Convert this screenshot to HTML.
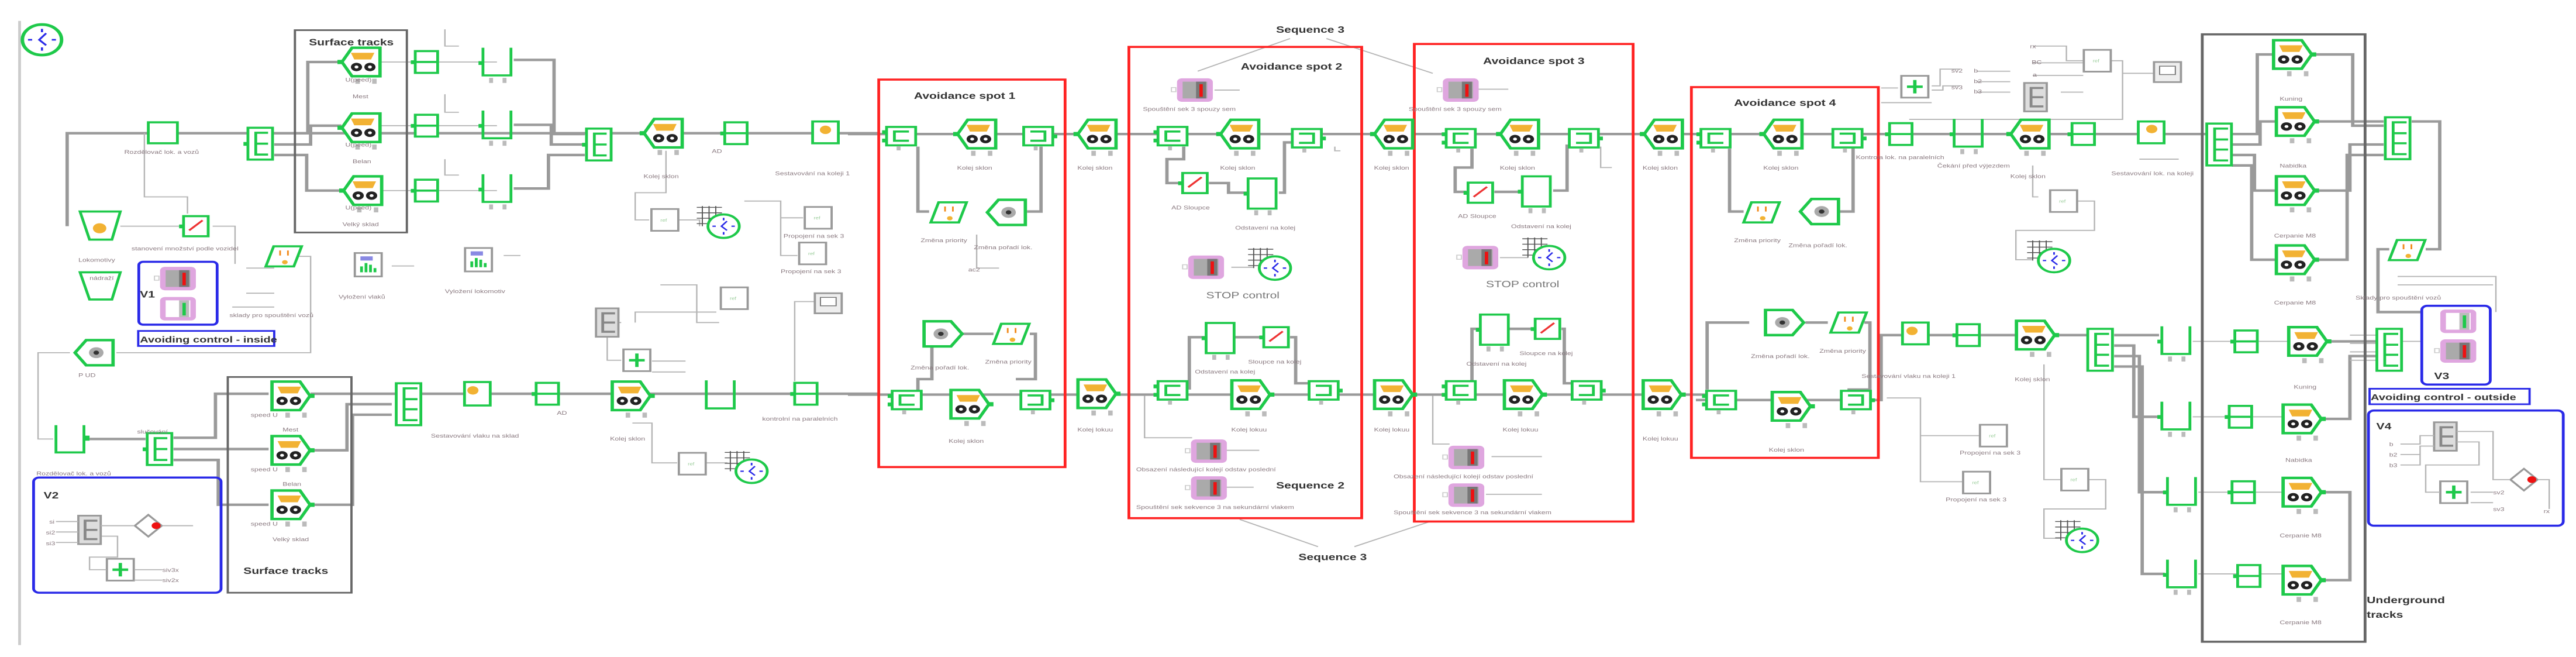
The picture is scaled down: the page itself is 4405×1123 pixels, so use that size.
<!DOCTYPE html>
<html><head><meta charset="utf-8"><style>
html,body{margin:0;padding:0;background:#fff;}
svg{display:block;font-family:"Liberation Sans",sans-serif;}
.t{font-size:13px;fill:#8a7a80;}
.h{font-size:22px;font-weight:bold;fill:#333;}
.L{fill:none;stroke:#9a9a9a;stroke-width:6;}
.l{fill:none;stroke:#b5b5b5;stroke-width:2.5;}
</style></head><body>
<svg width="4405" height="1123" viewBox="0 0 4405 1123" xmlns="http://www.w3.org/2000/svg" xmlns:xlink="http://www.w3.org/1999/xlink">
<defs>
<g id="veh"><path d="M-34,0 L-16,-34 H34 V34 H-16 Z" fill="#fff" stroke="#1ec94a" stroke-width="6"/><path d="M-18,-22 H24 L18,-6 H-12 Z" fill="#f2b233"/><circle cx="-8" cy="12" r="10" fill="#222"/><circle cx="-8" cy="12" r="3.5" fill="#fff"/><circle cx="16" cy="12" r="10" fill="#222"/><circle cx="16" cy="12" r="3.5" fill="#fff"/><rect x="-42" y="-5" width="8" height="10" fill="#1ec94a"/><rect x="-10" y="40" width="8" height="12" fill="#bbb"/><rect x="20" y="40" width="8" height="12" fill="#bbb"/></g>
<g id="vehR"><path d="M34,0 L16,-34 H-34 V34 H16 Z" fill="#fff" stroke="#1ec94a" stroke-width="6"/><path d="M18,-22 H-24 L-18,-6 H12 Z" fill="#f2b233"/><circle cx="8" cy="12" r="10" fill="#222"/><circle cx="8" cy="12" r="3.5" fill="#fff"/><circle cx="-16" cy="12" r="10" fill="#222"/><circle cx="-16" cy="12" r="3.5" fill="#fff"/><rect x="34" y="-5" width="8" height="10" fill="#1ec94a"/><rect x="-10" y="40" width="8" height="12" fill="#bbb"/><rect x="20" y="40" width="8" height="12" fill="#bbb"/></g>
<g id="sw"><rect x="-26" y="-22" width="52" height="44" fill="#fff" stroke="#1ec94a" stroke-width="5"/><path d="M14,-11 H-12 V11 H14" fill="none" stroke="#1ec94a" stroke-width="5"/><rect x="-34" y="-14" width="8" height="9" fill="#1ec94a"/><rect x="-34" y="6" width="8" height="9" fill="#1ec94a"/><rect x="-8" y="24" width="7" height="10" fill="#bbb"/></g>
<g id="swR"><rect x="-26" y="-22" width="52" height="44" fill="#fff" stroke="#1ec94a" stroke-width="5"/><path d="M-14,-11 H12 V11 H-14" fill="none" stroke="#1ec94a" stroke-width="5"/><rect x="26" y="-4" width="8" height="9" fill="#1ec94a"/><rect x="-8" y="24" width="7" height="10" fill="#bbb"/></g>
<g id="dbl"><rect x="-20" y="-26" width="40" height="52" fill="#fff" stroke="#1ec94a" stroke-width="5"/><line x1="-20" y1="0" x2="20" y2="0" stroke="#1ec94a" stroke-width="5"/><rect x="-28" y="-4" width="8" height="9" fill="#1ec94a"/></g>
<g id="que"><path d="M-25,-36 V30 H25 V-36" fill="none" stroke="#1ec94a" stroke-width="5"/><rect x="-33" y="-4" width="8" height="9" fill="#1ec94a"/><rect x="-14" y="36" width="7" height="12" fill="#bbb"/><rect x="10" y="36" width="7" height="12" fill="#bbb"/></g>
<g id="eb"><rect x="-22" y="-38" width="44" height="76" fill="#fff" stroke="#1ec94a" stroke-width="5"/><path d="M14,-26 H-8 V26 H14 M-8,0 H14" fill="none" stroke="#1ec94a" stroke-width="5"/><rect x="-30" y="-4" width="8" height="9" fill="#1ec94a"/></g>
<g id="ebig"><rect x="-22" y="-50" width="44" height="100" fill="#fff" stroke="#1ec94a" stroke-width="5"/><path d="M16,-38 H-8 V38 H16 M-8,-12 H16 M-8,12 H16" fill="none" stroke="#1ec94a" stroke-width="5"/></g>
<g id="tall"><rect x="-25" y="-36" width="50" height="72" fill="#fff" stroke="#1ec94a" stroke-width="5"/><rect x="-33" y="-4" width="8" height="9" fill="#1ec94a"/><rect x="-14" y="40" width="7" height="12" fill="#bbb"/><rect x="10" y="40" width="7" height="12" fill="#bbb"/></g>
<g id="rl"><rect x="-22" y="-24" width="44" height="48" fill="#fff" stroke="#1ec94a" stroke-width="5"/><line x1="-12" y1="10" x2="12" y2="-14" stroke="#e33" stroke-width="4"/><rect x="-30" y="-4" width="8" height="9" fill="#1ec94a"/></g>
<g id="par"><path d="M-30,24 L-16,-24 H34 L20,24 Z" fill="#fff" stroke="#1ec94a" stroke-width="5"/><rect x="-6" y="-14" width="3" height="12" fill="#f28a1a"/><rect x="8" y="-14" width="3" height="12" fill="#f28a1a"/><circle cx="4" cy="14" r="5" fill="#f2b233"/></g>
<g id="hexc"><path d="M-34,-30 H14 L34,0 L14,30 H-34 Z" fill="#fff" stroke="#1ec94a" stroke-width="6"/><circle cx="-4" cy="0" r="13" fill="#aaa"/><circle cx="-4" cy="0" r="5" fill="#333"/></g>
<g id="pink"><rect x="-32" y="-28" width="64" height="56" rx="9" fill="#dfa6df"/><rect x="-22" y="-20" width="44" height="40" fill="#aaa"/><rect x="2" y="-20" width="18" height="40" fill="#777"/><rect x="8" y="-14" width="6" height="30" fill="#e11"/><rect x="-42" y="-6" width="8" height="10" fill="none" stroke="#ccc" stroke-width="2"/></g>
<g id="clk"><circle r="28" fill="#fff" stroke="#1ec94a" stroke-width="5"/><path d="M0,-20 V-14 M0,20 V14 M-20,0 H-14 M20,0 H14 M6,-12 L-4,0 L6,10" stroke="#2a2ae8" stroke-width="3" fill="none"/></g>
<g id="cg"><path d="M-40,-35 H5 M-40,-22 H5 M-40,-9 H5 M-40,4 H5 M-30,-38 V10 M-18,-38 V10 M-6,-38 V10" stroke="#555" stroke-width="2"/><use xlink:href="#clk" x="8" y="10"/></g>
<g id="chart"><rect x="-24" y="-28" width="48" height="56" fill="#fff" stroke="#999" stroke-width="4"/><path d="M-12,18 V4 M-4,18 V-4 M4,18 V0 M12,18 V8" stroke="#1ec94a" stroke-width="5"/><rect x="-14" y="-20" width="22" height="10" fill="#3a3ad0" opacity=".6"/></g>
<g id="gbox"><rect x="-24" y="-26" width="48" height="52" fill="#fff" stroke="#999" stroke-width="4"/><text x="-8" y="4" style="font-size:10px;fill:#9c9">ref</text></g>
<g id="plus"><rect x="-24" y="-26" width="48" height="52" fill="#fff" stroke="#999" stroke-width="4"/><path d="M-14,0 H14 M0,-16 V16" stroke="#1ec94a" stroke-width="6"/></g>
<g id="mon"><rect x="-24" y="-24" width="48" height="48" fill="#eee" stroke="#999" stroke-width="4"/><rect x="-14" y="-14" width="28" height="20" fill="#fff" stroke="#777" stroke-width="2"/></g>
<g id="ge"><rect x="-20" y="-34" width="40" height="68" fill="#ddd" stroke="#999" stroke-width="4"/><path d="M14,-22 H-8 V22 H14 M-8,0 H14" fill="none" stroke="#888" stroke-width="5"/></g>
<g id="dia"><path d="M0,-26 L24,0 L0,26 L-24,0 Z" fill="#fff" stroke="#999" stroke-width="4"/><circle cx="14" cy="0" r="8" fill="#e11"/></g>
</defs>

<!-- ============ PANEL 1 ============ -->
<g transform="scale(0.957,0.716)">
<line x1="35" y1="50" x2="35" y2="1540" stroke="#ccc" stroke-width="5"/>
<use xlink:href="#clk" x="75" y="95" transform="translate(75,95) scale(1.25,1.3) translate(-75,-95)"/>
<path class="L" d="M120,540 V318 H1568"/>
<path class="L" d="M490,318 H550 V148 H610 M490,345 H555 V300 H610 M490,370 H548 V455 H610"/>
<path class="l" d="M680,148 H888 M680,300 H888 M680,455 H888"/>
<path class="L" d="M918,143 H990 V320 H1045 M918,298 H985 V345 H1045 M918,450 H980 V370 H1045"/>
<path class="l" d="M258,318 V470 H335 V510 M215,540 H320 M380,540 H420 V630 M530,612 H555 V842 H208 M125,842 H68 V1048 H95"/>
<path class="L" d="M160,1048 H260 M310,1045 H385 V940 H480 M310,1072 H480 M310,1098 H390 V1205 H480"/>
<path class="L" d="M555,940 H1568 M555,1075 H620 V965 H700 M555,1205 H630 V990 H700"/>
<path class="l" d="M1190,360 V460 H1135 V525 H1160 M1210,525 H1250 V540 M1330,480 H1395 V610 H1425 M1395,520 H1435 M1505,700 H1460 M1420,910 V720 H1460 M1130,1010 H1165 V1105 H1210 M1260,1105 H1300 M1110,770 H1085 V860 H1110 M1135,770 H1135 V745 H1280 M1180,680 H1245 V770 H1285"/>
<path class="l" d="M795,70 V110 H820 M795,225 V268 H820 M795,380 V418 H820 M700,635 H740 M900,610 H930 M440,640 H490 M440,700 H490 M415,733 H490 M1165,862 H1225 M1165,888 H1225"/>
<rect x="527" y="72" width="200" height="483" fill="none" stroke="#666" stroke-width="4"/>
<text x="552" y="108" class="h">Surface tracks</text>
<use xlink:href="#veh" x="645" y="148"/><use xlink:href="#veh" x="645" y="305"/><use xlink:href="#veh" x="648" y="455"/>
<text x="617" y="195" class="t">U(peed)</text><text x="630" y="235" class="t">Mest</text>
<text x="617" y="350" class="t">U(peed)</text><text x="630" y="390" class="t">Belan</text>
<text x="617" y="500" class="t">U(peed)</text><text x="612" y="540" class="t">Velký sklad</text>
<use xlink:href="#dbl" x="762" y="148"/><use xlink:href="#dbl" x="762" y="300"/><use xlink:href="#dbl" x="762" y="455"/>
<use xlink:href="#que" x="888" y="150"/><use xlink:href="#que" x="888" y="300"/><use xlink:href="#que" x="888" y="452"/>
<use xlink:href="#eb" x="465" y="343"/>
<use xlink:href="#eb" x="1070" y="345"/>
<rect x="265" y="292" width="52" height="50" fill="#fff" stroke="#1ec94a" stroke-width="5"/>
<text x="222" y="367" class="t">Rozdělovač lok. a vozů</text>
<use xlink:href="#veh" x="1185" y="318"/><text x="1150" y="425" class="t">Kolej sklon</text>
<use xlink:href="#dbl" x="1315" y="318"/><text x="1272" y="365" class="t">AD</text>
<rect x="1452" y="290" width="46" height="52" fill="#fff" stroke="#1ec94a" stroke-width="5"/><circle cx="1475" cy="310" r="10" fill="#f2b233"/>
<text x="1385" y="418" class="t">Sestavování na koleji 1</text>
<path d="M143,505 H215 L200,572 H160 Z" fill="#fff" stroke="#1ec94a" stroke-width="5"/><circle cx="178" cy="545" r="12" fill="#f2b233"/>
<text x="140" y="625" class="t">Lokomotivy</text>
<path d="M143,650 H215 L200,715 H160 Z" fill="#fff" stroke="#1ec94a" stroke-width="5"/><text x="160" y="668" class="t">nádraží</text>
<use xlink:href="#rl" x="350" y="540"/>
<text x="235" y="598" class="t">stanovení množství podle vozidel</text>
<use xlink:href="#par" x="505" y="612"/>
<rect x="248" y="625" width="140" height="150" rx="8" fill="none" stroke="#2a2ae8" stroke-width="5"/>
<text x="250" y="710" class="h">V1</text>
<use xlink:href="#pink" x="318" y="665"/>
<g transform="translate(318,737)"><rect x="-32" y="-28" width="64" height="56" rx="9" fill="#dfa6df"/><rect x="-22" y="-20" width="44" height="40" fill="#fff"/><rect x="2" y="-20" width="18" height="40" fill="#bbb"/><rect x="8" y="-14" width="6" height="30" fill="#1ec94a"/></g>
<text x="410" y="757" class="t">sklady pro spouštění vozů</text>
<rect x="247" y="790" width="243" height="36" fill="#fff" stroke="#2a2ae8" stroke-width="4"/>
<text x="250" y="818" style="font-size:21px;font-weight:bold;fill:#333">Avoiding control - inside</text>
<use xlink:href="#hexc" x="168" y="842" transform="translate(336,0) scale(-1,1)"/>
<text x="140" y="900" class="t">P      UD</text>
<path d="M100,1015 V1080 H150 V1015" fill="none" stroke="#1ec94a" stroke-width="5"/><rect x="150" y="1040" width="10" height="12" fill="#1ec94a"/>
<text x="65" y="1135" class="t">Rozdělovač lok. a vozů</text>
<use xlink:href="#eb" x="285" y="1072"/><text x="245" y="1035" class="t">slučování</text>
<rect x="407" y="900" width="221" height="515" fill="none" stroke="#666" stroke-width="4"/>
<text x="435" y="1370" class="h">Surface tracks</text>
<use xlink:href="#vehR" x="520" y="945"/><use xlink:href="#vehR" x="520" y="1075"/><use xlink:href="#vehR" x="520" y="1205"/>
<text x="448" y="995" class="t">speed   U</text><text x="505" y="1030" class="t">Mest</text>
<text x="448" y="1125" class="t">speed   U</text><text x="505" y="1160" class="t">Belan</text>
<text x="448" y="1255" class="t">speed   U</text><text x="487" y="1292" class="t">Velký sklad</text>
<use xlink:href="#ebig" x="730" y="965"/>
<rect x="830" y="912" width="46" height="56" fill="#fff" stroke="#1ec94a" stroke-width="5"/><circle cx="845" cy="932" r="10" fill="#f2b233"/>
<text x="770" y="1045" class="t">Sestavování vlaku na sklad</text>
<use xlink:href="#dbl" x="978" y="940"/><text x="995" y="990" class="t">AD</text>
<use xlink:href="#vehR" x="1128" y="945"/><text x="1090" y="1052" class="t">Kolej sklon</text>
<path d="M1262,908 V975 H1312 V908" fill="none" stroke="#1ec94a" stroke-width="5"/>
<use xlink:href="#dbl" x="1440" y="940"/><text x="1362" y="1004" class="t">kontrolní na paralelních</text>
<use xlink:href="#chart" x="658" y="632"/><text x="605" y="713" class="t">Vyložení vlaků</text>
<use xlink:href="#chart" x="855" y="620"/><text x="795" y="700" class="t">Vyložení lokomotiv</text>
<use xlink:href="#gbox" x="1188" y="525"/><use xlink:href="#cg" x="1285" y="530"/>
<use xlink:href="#gbox" x="1462" y="520"/><text x="1400" y="568" class="t">Propojení na sek 3</text>
<use xlink:href="#gbox" x="1452" y="605"/><text x="1395" y="652" class="t">Propojení na sek 3</text>
<use xlink:href="#gbox" x="1312" y="712"/><use xlink:href="#mon" x="1480" y="724"/>
<use xlink:href="#ge" x="1085" y="770"/><use xlink:href="#plus" x="1138" y="860"/>
<use xlink:href="#gbox" x="1237" y="1107"/><use xlink:href="#cg" x="1335" y="1115"/>
<rect x="60" y="1140" width="335" height="275" rx="10" fill="none" stroke="#2a2ae8" stroke-width="5"/>
<text x="78" y="1190" class="h">V2</text>
<use xlink:href="#ge" x="160" y="1265"/><use xlink:href="#dia" x="265" y="1255"/><use xlink:href="#plus" x="215" y="1360"/>
<path class="l" d="M100,1245 H140 M100,1270 H140 M100,1295 H140 M180,1255 H240 M290,1255 H345 M182,1280 H210 V1330 H160 V1360 H190 M240,1360 H290 M240,1385 H290"/>
<text x="88" y="1250" class="t">si</text><text x="82" y="1276" class="t">si2</text><text x="82" y="1302" class="t">si3</text><text x="290" y="1365" class="t">siv3x</text><text x="290" y="1390" class="t">siv2x</text>
</g>

<!-- ============ PANEL 2 ============ -->
<g transform="translate(1450,0) scale(0.957,0.716)">
<path class="L" d="M0,320 H1568 M0,942 H1568"/>
<text x="765" y="78" class="h">Sequence 3</text>
<path class="l" d="M790,92 L625,170 M855,92 L1045,175 M700,1240 L840,1305 M905,1305 L1040,1245"/>
<text x="805" y="1337" class="h">Sequence 3</text>
<rect x="55" y="190" width="333" height="925" fill="none" stroke="#f22" stroke-width="5"/>
<text x="118" y="236" class="h">Avoidance spot 1</text>
<rect x="502" y="112" width="416" height="1125" fill="none" stroke="#f22" stroke-width="5"/>
<text x="702" y="166" class="h">Avoidance spot 2</text>
<rect x="1012" y="105" width="391" height="1140" fill="none" stroke="#f22" stroke-width="5"/>
<text x="1135" y="153" class="h">Avoidance spot 3</text>
<path class="L" d="M125,350 V505 H145 M320,505 H345 V350 M600,350 V380 H570 V437 H600 M645,437 H680 V460 H715 M770,460 H780 V340 H800 M1115,355 V400 H1085 V458 H1105 M1155,458 H1205 M1260,455 H1285 V345"/>
<path class="L" d="M125,935 V905 H150 V797 H135 M205,797 H260 M325,797 H335 V905 H300 M610,930 V805 H640 M690,805 H740 M790,805 H800 V915 H830 M1115,930 V785 H1130 M1180,785 H1225 M1275,785 H1280 V915 H1300"/>
<path class="l" d="M530,945 V1045 H615 M1045,945 V1060 H1075 M675,1075 H735 M675,1163 H725 M655,215 H700 M1125,213 H1180 M870,350 V360 H880 M1345,350 V400 H1365 M1150,1090 H1240 M1140,1180 H1240 M230,560 V640 H270 M685,638 H725 M1165,615 H1215"/>
<use xlink:href="#sw" x="95" y="325"/><use xlink:href="#veh" x="230" y="320"/><use xlink:href="#swR" x="340" y="325"/>
<use xlink:href="#veh" x="445" y="320"/><use xlink:href="#sw" x="580" y="325"/><use xlink:href="#veh" x="700" y="320"/>
<use xlink:href="#swR" x="820" y="330"/><use xlink:href="#veh" x="975" y="320"/><use xlink:href="#sw" x="1095" y="330"/>
<use xlink:href="#veh" x="1200" y="320"/><use xlink:href="#swR" x="1315" y="330"/><use xlink:href="#veh" x="1457" y="320"/>
<text x="195" y="405" class="t">Kolej sklon</text><text x="410" y="405" class="t">Kolej sklon</text><text x="665" y="405" class="t">Kolej sklon</text><text x="940" y="405" class="t">Kolej sklon</text><text x="1165" y="405" class="t">Kolej sklon</text><text x="1420" y="405" class="t">Kolej sklon</text>
<use xlink:href="#par" x="178" y="507"/><use xlink:href="#hexc" x="283" y="507" transform="translate(566,0) scale(-1,1)"/>
<text x="130" y="578" class="t">Změna priority</text><text x="225" y="595" class="t">Změna pořadí lok.</text><text x="215" y="648" class="t">ac2</text>
<use xlink:href="#pink" x="620" y="215"/><text x="527" y="265" class="t">Spouštění sek 3 spouzy sem</text>
<use xlink:href="#rl" x="620" y="437"/><text x="578" y="500" class="t">AD  Sloupce</text>
<use xlink:href="#tall" x="740" y="462"/><text x="692" y="548" class="t">Odstavení na kolej</text>
<use xlink:href="#pink" x="640" y="638"/><use xlink:href="#cg" x="755" y="630"/>
<text x="640" y="712" style="font-size:22px;fill:#777">STOP control</text>
<use xlink:href="#hexc" x="170" y="797"/><use xlink:href="#par" x="290" y="797"/>
<text x="112" y="882" class="t">Změna pořadí lok.</text><text x="245" y="868" class="t">Změna priority</text>
<use xlink:href="#sw" x="105" y="955"/><use xlink:href="#vehR" x="218" y="965"/><use xlink:href="#swR" x="335" y="955"/>
<text x="180" y="1057" class="t">Kolej sklon</text>
<use xlink:href="#vehR" x="445" y="940"/><text x="410" y="1030" class="t">Kolej lokuu</text>
<use xlink:href="#tall" x="665" y="807"/><use xlink:href="#rl" x="765" y="805"/>
<text x="620" y="892" class="t">Odstavení na kolej</text><text x="715" y="868" class="t">Sloupce na kolej</text>
<use xlink:href="#sw" x="580" y="932"/><use xlink:href="#vehR" x="720" y="942"/><use xlink:href="#swR" x="850" y="932"/>
<text x="685" y="1030" class="t">Kolej lokuu</text>
<use xlink:href="#vehR" x="975" y="942"/><text x="940" y="1030" class="t">Kolej lokuu</text>
<use xlink:href="#pink" x="645" y="1077"/><text x="515" y="1125" class="t">Obsazení následující kolejí odstav poslední</text>
<use xlink:href="#pink" x="645" y="1165"/><text x="515" y="1215" class="t">Spouštění sek sekvence 3 na sekundární vlakem</text>
<text x="765" y="1166" class="h">Sequence 2</text>
<use xlink:href="#pink" x="1095" y="215"/><text x="1002" y="265" class="t">Spouštění sek 3 spouzy sem</text>
<use xlink:href="#rl" x="1130" y="460"/><text x="1090" y="520" class="t">AD  Sloupce</text>
<use xlink:href="#tall" x="1230" y="457"/><text x="1185" y="545" class="t">Odstavení na kolej</text>
<use xlink:href="#pink" x="1130" y="615"/><use xlink:href="#cg" x="1245" y="605"/>
<text x="1140" y="686" style="font-size:22px;fill:#777">STOP control</text>
<use xlink:href="#tall" x="1155" y="787"/><use xlink:href="#rl" x="1250" y="785"/>
<text x="1105" y="873" class="t">Odstavení na kolej</text><text x="1200" y="848" class="t">Sloupce na kolej</text>
<use xlink:href="#sw" x="1095" y="932"/><use xlink:href="#vehR" x="1207" y="942"/><use xlink:href="#swR" x="1320" y="932"/>
<text x="1170" y="1030" class="t">Kolej lokuu</text>
<use xlink:href="#pink" x="1105" y="1092"/><text x="975" y="1142" class="t">Obsazení následující kolejí odstav poslední</text>
<use xlink:href="#pink" x="1105" y="1182"/><text x="975" y="1228" class="t">Spouštění sek sekvence 3 na sekundární vlakem</text>
<use xlink:href="#vehR" x="1455" y="942"/><text x="1420" y="1052" class="t">Kolej lokuu</text>
</g>

<!-- ============ PANEL 3 ============ -->
<g transform="translate(2900,0) scale(0.96,0.716)">
<path class="L" d="M0,320 H910 M0,955 H330 V800 H700"/>
<rect x="-8" y="208" width="333" height="885" fill="none" stroke="#f22" stroke-width="5"/>
<text x="68" y="253" class="h">Avoidance spot 4</text>
<path class="L" d="M60,355 V505 H85 M250,505 H280 V350 M20,930 V770 H95 M195,770 H235 M300,770 H310 V930 H270"/>
<path class="L" d="M955,320 H1000 V130 H1028 M955,345 H1005 V290 H1033 M955,370 H995 V455 H1033 M955,395 H990 V620 H1033"/>
<path class="L" d="M1100,130 H1170 V300 H1225 M1105,290 H1225 M1105,455 H1165 V345 H1225 M1105,620 H1160 V370 H1225 M1275,290 H1325 V595 H1300 M1235,595 H1215 V745 H1293"/>
<path class="L" d="M745,800 H825 M745,825 H780 V995 H825 M745,850 H790 V1175 H835 M745,875 H795 V1370 H835"/>
<path class="l" d="M885,815 H1055 M885,995 H1045 M895,1175 H1045 M895,1370 H1045"/>
<path class="L" d="M1125,815 H1165 M1120,1000 H1165 V850 H1215 M1120,1175 H1165 V1385 H1120 M1165,815 H1215"/>
<path class="l" d="M1165,800 H1215 M1165,820 H1215 M1165,840 H1215 M1165,860 H1215 M1255,815 H1293"/>
<path class="l" d="M330,210 H360 M420,205 H435 V165 H470 M420,215 H440 V205 H470 M600,110 H660 V145 H690 M600,150 H690 M600,180 H690 M500,170 H560 M500,195 H560 M500,220 H560 M650,220 H690 M740,145 H760 V175 H815 M330,245 V245 H420 M760,170 V285 H380 M600,395 V470 H610 M655,480 H710 V550 H570 V620 H600 M340,950 H400 V1040 H505 M400,950 V1150 H475 M620,870 V1145 H655 M700,1145 H730 V1215 H620 V1285 H650 M790,380 H860 M1250,660 H1425 V745 M1250,680 H1420"/>
<use xlink:href="#sw" x="35" y="330"/><use xlink:href="#veh" x="155" y="320"/><use xlink:href="#swR" x="270" y="330"/>
<text x="120" y="405" class="t">Kolej sklon</text>
<use xlink:href="#par" x="115" y="507"/><use xlink:href="#hexc" x="220" y="505" transform="translate(440,0) scale(-1,1)"/>
<text x="68" y="578" class="t">Změna priority</text><text x="165" y="590" class="t">Změna pořadí lok.</text>
<use xlink:href="#dbl" x="365" y="320"/><text x="285" y="380" class="t">Kontrola lok. na paralelních</text>
<use xlink:href="#que" x="485" y="320"/><text x="430" y="400" class="t">Čekání před výjezdem</text>
<use xlink:href="#veh" x="595" y="320"/><text x="560" y="425" class="t">Kolej sklon</text>
<use xlink:href="#dbl" x="690" y="320"/>
<rect x="788" y="290" width="46" height="52" fill="#fff" stroke="#1ec94a" stroke-width="5"/><circle cx="812" cy="308" r="10" fill="#f2b233"/>
<text x="740" y="418" class="t">Sestavování lok. na koleji</text>
<use xlink:href="#ebig" x="932" y="345"/>
<rect x="902" y="82" width="290" height="1450" fill="none" stroke="#666" stroke-width="5"/>
<text x="1195" y="1440" class="h">Underground</text><text x="1195" y="1475" class="h">tracks</text>
<use xlink:href="#vehR" x="1063" y="130"/><text x="1040" y="240" class="t">Kuning</text>
<use xlink:href="#vehR" x="1068" y="290"/><text x="1040" y="400" class="t">Nabidka</text>
<use xlink:href="#vehR" x="1068" y="455"/><text x="1030" y="567" class="t">Cerpanie M8</text>
<use xlink:href="#vehR" x="1068" y="620"/><text x="1030" y="727" class="t">Cerpanie M8</text>
<use xlink:href="#ebig" x="1250" y="330"/>
<use xlink:href="#par" x="1265" y="597"/><text x="1175" y="715" class="t">Sklady pro spouštění vozů</text>
<use xlink:href="#plus" x="390" y="207"/><use xlink:href="#ge" x="605" y="232"/>
<use xlink:href="#gbox" x="715" y="145"/><use xlink:href="#mon" x="840" y="172"/>
<text x="595" y="115" class="t">rx</text><text x="598" y="153" class="t">BC</text><text x="600" y="183" class="t">a</text>
<text x="455" y="173" class="t">sv2</text><text x="455" y="213" class="t">sv3</text><text x="495" y="173" class="t">b</text><text x="495" y="198" class="t">b2</text><text x="495" y="223" class="t">b3</text>
<use xlink:href="#gbox" x="655" y="480"/><use xlink:href="#cg" x="630" y="612"/>
<use xlink:href="#hexc" x="158" y="770"/><use xlink:href="#par" x="270" y="770"/>
<text x="98" y="855" class="t">Změna pořadí lok.</text><text x="220" y="842" class="t">Změna priority</text>
<use xlink:href="#sw" x="45" y="955"/><use xlink:href="#vehR" x="170" y="970"/><use xlink:href="#swR" x="285" y="955"/>
<text x="130" y="1078" class="t">Kolej sklon</text>
<rect x="368" y="770" width="46" height="52" fill="#fff" stroke="#1ec94a" stroke-width="5"/><circle cx="385" cy="790" r="10" fill="#f2b233"/>
<text x="295" y="902" class="t">Sestavování vlaku na koleji 1</text>
<use xlink:href="#dbl" x="485" y="800"/>
<use xlink:href="#vehR" x="605" y="800"/><text x="568" y="910" class="t">Kolej sklon</text>
<use xlink:href="#ebig" x="720" y="835"/>
<use xlink:href="#que" x="855" y="815"/><use xlink:href="#que" x="855" y="995"/><use xlink:href="#que" x="865" y="1175"/><use xlink:href="#que" x="865" y="1372"/>
<use xlink:href="#dbl" x="980" y="815"/><use xlink:href="#dbl" x="970" y="995"/><use xlink:href="#dbl" x="975" y="1175"/><use xlink:href="#dbl" x="985" y="1375"/>
<use xlink:href="#vehR" x="1090" y="815"/><text x="1065" y="928" class="t">Kuning</text>
<use xlink:href="#vehR" x="1080" y="1000"/><text x="1050" y="1103" class="t">Nabidka</text>
<use xlink:href="#vehR" x="1080" y="1175"/><text x="1040" y="1283" class="t">Cerpanie M8</text>
<use xlink:href="#vehR" x="1080" y="1385"/><text x="1040" y="1490" class="t">Cerpanie M8</text>
<use xlink:href="#ebig" x="1235" y="835"/>
<use xlink:href="#gbox" x="530" y="1040"/><text x="470" y="1085" class="t">Propojení na sek 3</text>
<use xlink:href="#gbox" x="500" y="1152"/><text x="445" y="1197" class="t">Propojení na sek 3</text>
<use xlink:href="#gbox" x="675" y="1145"/><use xlink:href="#cg" x="680" y="1280"/>
<rect x="1293" y="730" width="122" height="188" rx="10" fill="none" stroke="#2a2ae8" stroke-width="5"/>
<g transform="translate(1358,767)"><rect x="-32" y="-28" width="64" height="56" rx="9" fill="#dfa6df"/><rect x="-22" y="-20" width="44" height="40" fill="#fff"/><rect x="2" y="-20" width="18" height="40" fill="#bbb"/><rect x="8" y="-14" width="6" height="30" fill="#1ec94a"/></g>
<use xlink:href="#pink" x="1358" y="838"/>
<text x="1315" y="905" class="h">V3</text>
<rect x="1200" y="928" width="285" height="37" fill="#fff" stroke="#2a2ae8" stroke-width="4"/>
<text x="1202" y="955" style="font-size:21px;font-weight:bold;fill:#333">Avoiding control - outside</text>
<rect x="1198" y="980" width="347" height="275" rx="10" fill="none" stroke="#2a2ae8" stroke-width="5"/>
<text x="1212" y="1025" class="h">V4</text>
<use xlink:href="#ge" x="1335" y="1042"/><use xlink:href="#plus" x="1350" y="1175"/><use xlink:href="#dia" x="1475" y="1145"/>
<path class="l" d="M1255,1060 H1290 V1040 H1315 M1255,1085 H1290 M1255,1110 H1290 V1065 H1315 M1355,1030 H1420 V1145 H1450 M1355,1055 H1395 V1110 H1300 V1175 H1325 M1500,1145 H1520 V1215 M1380,1175 H1420 M1380,1200 H1420"/>
<text x="1235" y="1065" class="t">b</text><text x="1235" y="1090" class="t">b2</text><text x="1235" y="1115" class="t">b3</text><text x="1420" y="1180" class="t">sv2</text><text x="1420" y="1220" class="t">sv3</text><text x="1510" y="1225" class="t">rx</text>
</g>
</svg>
</body></html>
